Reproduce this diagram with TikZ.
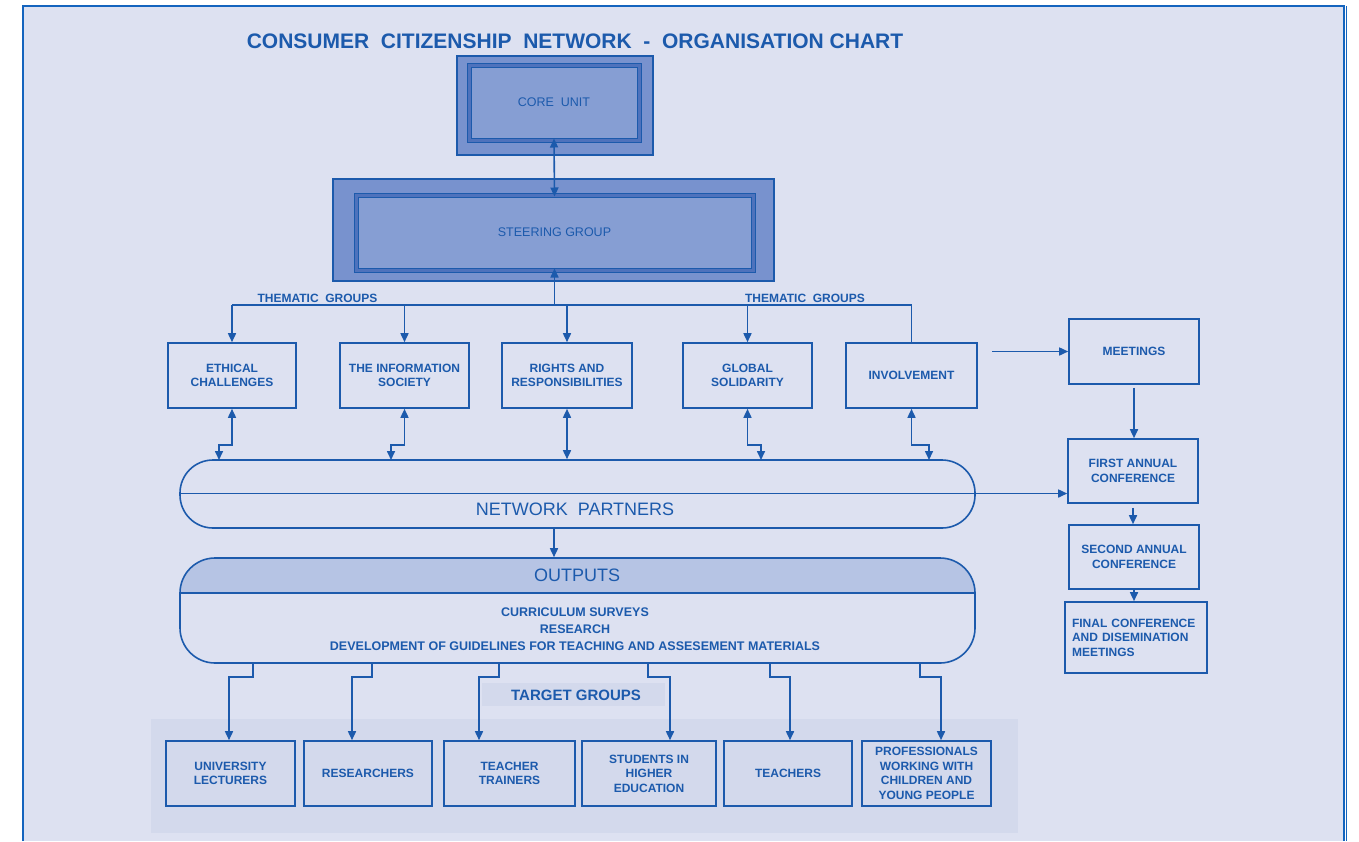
\documentclass[tikz,border=0pt]{standalone}
\usepackage{fontspec}
\setmainfont{Liberation Sans}
\usetikzlibrary{arrows.meta}
\definecolor{bg}{RGB}{221,225,241}
\definecolor{ln}{RGB}{28,90,172}
\definecolor{frm}{RGB}{20,100,190}
\definecolor{coreout}{RGB}{120,146,206}
\definecolor{corein}{RGB}{134,158,211}
\definecolor{band}{RGB}{78,114,188}
\definecolor{hdr}{RGB}{182,196,228}
\definecolor{tgband}{RGB}{211,217,236}
\tikzset{
  box/.style={draw=ln, line width=1.6pt, align=center, text=ln, inner sep=0pt,
    font=\bfseries\fontsize{12}{14.5}\selectfont, minimum height=65pt},
  lnk/.style={draw=ln, line width=1.6pt},
  lbl/.style={text=ln, inner sep=0pt},
}
\begin{document}
\begin{tikzpicture}[x=1pt,y=-1pt,>={Triangle[length=9pt,width=8pt]}]
\useasboundingbox (0,0) rectangle (1359,841);
\fill[white] (0,0) rectangle (1359,841);
\fill[bg] (23,6) rectangle (1344,841);
\draw[frm,line width=1.8pt] (23,841) -- (23,6) -- (1344,6) -- (1344,841);
\draw[frm,line width=1pt] (1346,6) -- (1346,841);

% title
\node[lbl,font=\bfseries\fontsize{21}{24}\selectfont] (title) at (575,41) {CONSUMER\ \ CITIZENSHIP\ \ NETWORK\ \ -\ \ ORGANISATION CHART};

% core unit
\node[draw=ln,line width=1.6pt,fill=coreout,minimum width=196pt,minimum height=99pt] (core) at (555,105.5) {};
\fill[band,draw=ln,line width=1pt] (467,63) rectangle (641,142);
\node[draw=ln,line width=1pt,fill=corein,minimum width=166pt,minimum height=71pt,text=ln,font=\fontsize{12.5}{14}\selectfont] (corein) at (554,102.5) {CORE\ \ UNIT};

% steering group
\node[draw=ln,line width=1.6pt,fill=coreout,minimum width=441pt,minimum height=102pt] (steer) at (553.5,230) {};
\fill[band,draw=ln,line width=1pt] (354,193) rectangle (755,272);
\node[draw=ln,line width=1pt,fill=corein,minimum width=393pt,minimum height=71pt,text=ln,font=\fontsize{12.5}{14}\selectfont] (steerin) at (554.5,232.5) {STEERING GROUP};

\draw[lnk,<->] (corein.south) -- (steerin.north);

% thematic boxes
\node[box,minimum width=128pt] (eth) at (232,375.5) {ETHICAL\\CHALLENGES};
\node[box,minimum width=129pt] (info) at (404.5,375.5) {THE INFORMATION\\SOCIETY};
\node[box,minimum width=130pt] (rights) at (567,375.5) {RIGHTS AND\\RESPONSIBILITIES};
\node[box,minimum width=129pt] (glob) at (747.5,375.5) {GLOBAL\\SOLIDARITY};
\node[box,minimum width=131pt] (inv) at (911.5,375.5) {INVOLVEMENT};

\node[lbl,font=\bfseries\fontsize{12}{14}\selectfont] (tg1) at (317.5,298) {THEMATIC\ \ GROUPS};
\node[lbl,font=\bfseries\fontsize{12}{14}\selectfont] (tg2) at (805,298) {THEMATIC\ \ GROUPS};

% bus
\coordinate (busL) at (232,305);
\coordinate (busR) at (911,305);
\draw[lnk] (eth.north |- busL) -- (inv.north |- busR);
\draw[lnk,->] (steerin.south |- busL) -- (steerin.south);
\draw[lnk,->] (eth.north |- busL) -- (eth.north);
\draw[lnk,->] (info.north |- busL) -- (info.north);
\draw[lnk,->] (rights.north |- busL) -- (rights.north);
\draw[lnk,->] (glob.north |- busL) -- (glob.north);
\draw[lnk] (inv.north |- busL) -- (inv.north);

% network partners
\node[draw=ln,line width=1.6pt,rounded corners=33pt,minimum width=795pt,minimum height=68pt] (np) at (577.5,494) {};
\node[lbl,font=\fontsize{18}{20}\selectfont] (nptxt) at (575,509) {NETWORK\ \ PARTNERS};
\coordinate (npl) at (180,493.5);

\coordinate (j1) at (219,460);
\coordinate (j2) at (391,460);
\coordinate (j4) at (761,460);
\coordinate (j5) at (929,460);
\draw[lnk,<->] (eth.south) |- ([yshift=15pt]j1) -- (j1);
\draw[lnk,<->] (info.south) |- ([yshift=15pt]j2) -- (j2);
\draw[lnk,<->] (rights.south) -- (rights.south |- np.north);
\draw[lnk,<->] (glob.south) |- ([yshift=15pt]j4) -- (j4);
\draw[lnk,<->] (inv.south) |- ([yshift=15pt]j5) -- (j5);

% right column
\node[box,minimum width=130pt] (meet) at (1134,351.5) {MEETINGS};
\node[box,minimum width=130pt,minimum height=64pt] (first) at (1133,471) {FIRST ANNUAL\\CONFERENCE};
\node[box,minimum width=130pt,minimum height=64pt] (second) at (1134,557) {SECOND ANNUAL\\CONFERENCE};
\node[box,text width=128pt,align=left,inner xsep=7pt,minimum height=71pt] (final) at (1136,637.5) {FINAL CONFERENCE\\AND DISEMINATION\\MEETINGS};

\coordinate (im) at (992,351.5);
\draw[lnk,->] (im) -- (meet.west);
\draw[lnk,->,shorten <=3pt] (meet.south) -- (meet.south |- first.north);
\draw[lnk,->,shorten <=4pt] (first.south) -- (first.south |- second.north);
\draw[lnk,->] (second.south) -- (second.south |- final.north);
\draw[lnk,->] (npl) -- (first.west |- npl);

% outputs
\begin{scope}
\clip[rounded corners=35pt] (180,558) rectangle (975,663);
\fill[hdr] (180,558) rectangle (975,593);
\end{scope}
\node[draw=ln,line width=1.6pt,rounded corners=35pt,minimum width=795pt,minimum height=105pt] (out) at (577.5,610.5) {};
\draw[lnk] (180,593) -- (975,593);
\node[lbl,font=\fontsize{18}{20}\selectfont] (outtxt) at (577,575) {OUTPUTS};
\node[lbl,align=center,font=\bfseries\fontsize{12.5}{16.8}\selectfont] (outbody) at (575,629) {CURRICULUM SURVEYS\\RESEARCH\\DEVELOPMENT OF GUIDELINES FOR TEACHING AND ASSESEMENT MATERIALS};

\coordinate (sx) at (554,0);
\draw[lnk,->] (np.south -| sx) -- (out.north -| sx);

% target groups
\fill[tgband] (151,719) rectangle (1018,833);
\fill[tgband] (482,683) rectangle (665,706);
\node[lbl,font=\bfseries\fontsize{15}{17}\selectfont] (tgt) at (576,695) {TARGET GROUPS};

\node[box,minimum width=129pt] (univ) at (230.5,773.5) {UNIVERSITY\\LECTURERS};
\node[box,minimum width=128pt] (res) at (368,773.5) {RESEARCHERS};
\node[box,minimum width=131pt] (tt) at (509.5,773.5) {TEACHER\\TRAINERS};
\node[box,minimum width=134pt] (stud) at (649,773.5) {STUDENTS IN\\HIGHER\\EDUCATION};
\node[box,minimum width=128pt] (teach) at (788,773.5) {TEACHERS};
\node[box,minimum width=129pt] (prof) at (926.5,773.5) {PROFESSIONALS\\WORKING WITH\\CHILDREN AND\\YOUNG PEOPLE};

\coordinate (jy) at (0,677);
\draw[lnk,->] (out.south -| 253,0) |- ([xshift=-1.5pt]univ.north |- jy) -- ([xshift=-1.5pt]univ.north);
\draw[lnk,->] (out.south -| 372,0) |- ([xshift=-16pt]res.north |- jy) -- ([xshift=-16pt]res.north);
\draw[lnk,->] (out.south -| 499,0) |- ([xshift=-30.5pt]tt.north |- jy) -- ([xshift=-30.5pt]tt.north);
\draw[lnk,->] (out.south -| 648,0) |- ([xshift=21pt]stud.north |- jy) -- ([xshift=21pt]stud.north);
\draw[lnk,->] (out.south -| 770,0) |- ([xshift=2pt]teach.north |- jy) -- ([xshift=2pt]teach.north);
\draw[lnk,->] (out.south -| 920,0) |- ([xshift=14.5pt]prof.north |- jy) -- ([xshift=14.5pt]prof.north);
\end{tikzpicture}
\end{document}
